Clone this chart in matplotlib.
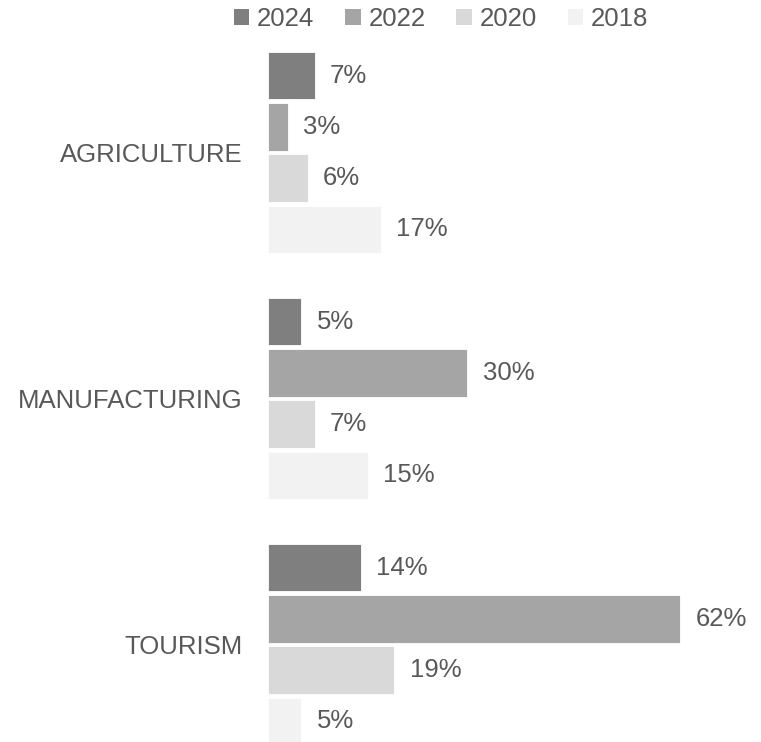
import matplotlib
matplotlib.use("Agg")
import matplotlib.pyplot as plt
from matplotlib.patches import Patch

plt.rcParams['font.family'] = ['Liberation Sans', 'DejaVu Sans']

# Data
categories = ["AGRICULTURE", "MANUFACTURING", "TOURISM"]
years = ["2024", "2022", "2020", "2018"]
values_2024 = [7, 5, 14]
values_2022 = [3, 30, 62]
values_2020 = [6, 7, 19]
values_2018 = [17, 15, 5]
series = [values_2024, values_2022, values_2020, values_2018]
colors = ["#7f7f7f", "#a5a5a5", "#d9d9d9", "#f2f2f2"]
text_color = "#595959"
fs = 18.5

W, H = 761, 742
fig = plt.figure(figsize=(W / 100, H / 100), dpi=100)
ax_left = 268 / W
ax_top_px = 40
ax = fig.add_axes([ax_left, 0, 1 - ax_left, 1 - ax_top_px / H])

slot = 0.2085
bar_h = 0.193
for i, (vals, col, yr) in enumerate(zip(series, colors, years)):
    ypos = [g + (i - 1.5) * slot for g in range(len(categories))]
    bars = ax.barh(ypos, vals, height=bar_h, color=col, edgecolor="white",
                   linewidth=0.6, label=yr)
    ax.bar_label(bars, labels=[f"{v}%" for v in vals], padding=11,
                 fontsize=fs, color=text_color)

px_per_unit = 6.645
ax.set_xlim(0, (W - 268) / px_per_unit)
ax.set_ylim((H - 152.5) / 246, (ax_top_px - 152.5) / 246)

ax.set_yticks(range(len(categories)))
ax.set_yticklabels(categories, fontsize=fs, color=text_color)
ax.tick_params(axis="y", length=0, pad=18.5)
ax.set_xticks([])
for s in ax.spines.values():
    s.set_visible(False)

handles = [Patch(facecolor=c, edgecolor="none", label=y) for c, y in zip(colors, years)]
fig.legend(handles=handles, loc="center", bbox_to_anchor=(441 / W, 1 - 19 / H),
           ncol=4, frameon=False, fontsize=fs, labelcolor=text_color,
           handlelength=0.6, handleheight=0.6, handletextpad=0.3,
           columnspacing=1.2, borderaxespad=0)

fig.savefig("out.png", dpi=100)
